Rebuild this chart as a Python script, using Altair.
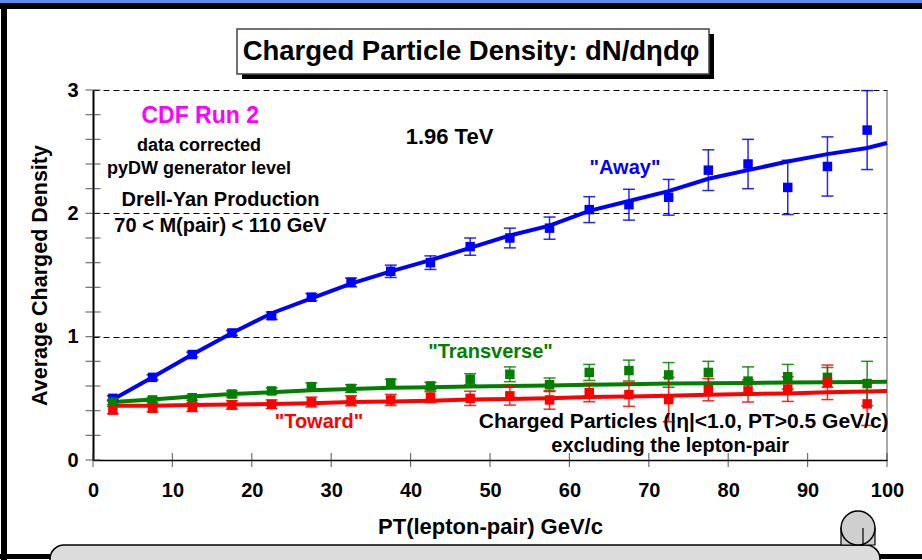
import altair as alt
import pandas as pd

# ---------------- data ----------------
pt = [2.5, 7.5, 12.5, 17.5, 22.5, 27.5, 32.5, 37.5, 42.5, 47.5,
      52.5, 57.5, 62.5, 67.5, 72.5, 77.5, 82.5, 87.5, 92.5, 97.5]

away = [0.50, 0.67, 0.855, 1.03, 1.17, 1.32, 1.44, 1.53, 1.60, 1.73,
        1.80, 1.88, 2.03, 2.07, 2.13, 2.35, 2.40, 2.21, 2.38, 2.675]
away_err = [0.02, 0.02, 0.02, 0.02, 0.03, 0.03, 0.035, 0.05, 0.055, 0.07,
            0.08, 0.09, 0.105, 0.125, 0.145, 0.165, 0.20, 0.22, 0.24, 0.32]

trans = [0.47, 0.487, 0.505, 0.535, 0.56, 0.595, 0.58, 0.625, 0.60, 0.655,
         0.695, 0.61, 0.71, 0.725, 0.69, 0.71, 0.64, 0.675, 0.67, 0.62]
trans_err = [0.02, 0.02, 0.02, 0.025, 0.025, 0.03, 0.03, 0.03, 0.03, 0.045,
             0.06, 0.055, 0.065, 0.085, 0.10, 0.09, 0.115, 0.10, 0.08, 0.18]

toward = [0.405, 0.42, 0.428, 0.447, 0.452, 0.47, 0.48, 0.487, 0.51, 0.50,
          0.52, 0.487, 0.547, 0.53, 0.49, 0.57, 0.56, 0.575, 0.63, 0.455]
toward_err = [0.03, 0.03, 0.035, 0.035, 0.035, 0.04, 0.04, 0.045, 0.045, 0.058,
              0.075, 0.075, 0.075, 0.095, 0.18, 0.09, 0.09, 0.10, 0.14, 0.175]

# pyDW generator-level curves
pt_curve = [2.5, 7.5, 12.5, 17.5, 22.5, 27.5, 32.5, 37.5, 42.5, 47.5,
            52.5, 57.5, 62.5, 67.5, 72.5, 77.5, 82.5, 87.5, 92.5, 97.5, 100]
away_curve = [0.49, 0.67, 0.855, 1.03, 1.19, 1.31, 1.43, 1.53, 1.62, 1.72,
              1.82, 1.90, 2.02, 2.10, 2.18, 2.28, 2.35, 2.42, 2.48, 2.53, 2.57]
trans_curve = [0.47, 0.49, 0.515, 0.535, 0.55, 0.565, 0.575, 0.585, 0.59, 0.595,
               0.60, 0.605, 0.61, 0.615, 0.62, 0.622, 0.625, 0.628, 0.63, 0.633, 0.635]
toward_curve = [0.44, 0.44, 0.445, 0.45, 0.455, 0.46, 0.47, 0.475, 0.48, 0.49,
                0.495, 0.50, 0.51, 0.515, 0.52, 0.53, 0.535, 0.54, 0.55, 0.555, 0.56]

series = ['"Away"', '"Transverse"', '"Toward"']
series_colors = ["#0000ff", "#008000", "#ff0000"]

x_tick_vals = [0, 10, 20, 30, 40, 50, 60, 70, 80, 90, 100]
y_tick_vals = [0, 0.2, 0.4, 0.6, 0.8, 1.0, 1.2, 1.4, 1.6, 1.8, 2.0,
               2.2, 2.4, 2.6, 2.8, 3.0]
y_label_vals = [0, 1, 2, 3]

# annotations (text, x, y in data units, color, font size)
ann_text = ["CDF Run 2", "data corrected", "pyDW generator level",
            "Drell-Yan Production", "70 < M(pair) < 110 GeV", "1.96 TeV",
            '"Away"', '"Transverse"', '"Toward"',
            "Charged Particles (|η|<1.0, PT>0.5 GeV/c)",
            "excluding the lepton-pair"]
ann_x = [13.5, 13.35, 13.35, 16.06, 16.06, 44.9, 67.0, 50.06, 28.46, 74.4, 72.7]
ann_y = [2.79, 2.55, 2.36, 2.11, 1.90, 2.62, 2.37, 0.876, 0.308, 0.308, 0.114]
ann_color = ["#ff00ff", "black", "black", "black", "black", "black",
             "#0000ff", "#008000", "#ff0000", "black", "black"]
ann_size = [23, 18, 18, 20, 20, 22, 20, 20, 20, 21, 20]

chart_title = "Charged Particle Density: dN/dηdφ"

# ---------------- tables ----------------
rows = []
for name, vals, errs in zip(series, [away, trans, toward], [away_err, trans_err, toward_err]):
    for x, v, e in zip(pt, vals, errs):
        rows.append({"series": name, "pt": x, "val": v, "lo": v - e, "hi": v + e})
pts_df = pd.DataFrame(rows)

crow = []
for name, vals in zip(series, [away_curve, trans_curve, toward_curve]):
    for x, v in zip(pt_curve, vals):
        crow.append({"series": name, "pt": x, "val": v})
curve_df = pd.DataFrame(crow)

ann_df = pd.DataFrame({"text": ann_text, "x": ann_x, "y": ann_y,
                       "color": ann_color, "size": ann_size})
xt_df = pd.DataFrame({"x": x_tick_vals, "y": [0] * len(x_tick_vals)})
yt_df = pd.DataFrame({"y": y_tick_vals, "x": [0] * len(y_tick_vals)})

FONT = "Liberation Sans"

x_scale = alt.Scale(domain=[0, 100], nice=False, zero=False)
y_scale = alt.Scale(domain=[0, 3], nice=False)
x_axis = alt.Axis(values=x_tick_vals, title="PT(lepton-pair) GeV/c", grid=False,
                  ticks=False, labelPadding=20, labelFontSize=20,
                  labelFontWeight="bold", labelFont=FONT, labelColor="black",
                  titleFontSize=22, titleFontWeight="bold", titleFont=FONT,
                  titleColor="black", titlePadding=16, domainColor="black",
                  domainWidth=1.5, labelFlush=False)
y_axis = alt.Axis(values=y_label_vals, title="Average Charged Density", grid=True,
                  gridColor="black", gridDash=[6, 4], gridWidth=1,
                  ticks=False, labelPadding=15, labelFontSize=20,
                  labelFontWeight="bold", labelFont=FONT, labelColor="black",
                  titleFontSize=21.5, titleFontWeight="bold", titleFont=FONT,
                  titleColor="black", titlePadding=15, domainColor="black",
                  domainWidth=2)


def X(field):
    return alt.X(f"{field}:Q", scale=x_scale, axis=x_axis)


def Y(field):
    return alt.Y(f"{field}:Q", scale=y_scale, axis=y_axis)


color = alt.Color("series:N", scale=alt.Scale(domain=series, range=series_colors),
                  legend=None)

one = alt.Data(values=[{"k": 1}])

# decorations of the slide frame (pixel positions relative to plot origin)
top_blue = alt.Chart(one).mark_rect(color="#5b8cf0").encode(
    x=alt.value(-93), x2=alt.value(829), y=alt.value(-90), y2=alt.value(-87))
top_black = alt.Chart(one).mark_rect(color="black").encode(
    x=alt.value(-93), x2=alt.value(829), y=alt.value(-87), y2=alt.value(-81))
left_black = alt.Chart(one).mark_rect(color="black").encode(
    x=alt.value(-92), x2=alt.value(-86), y=alt.value(-87), y2=alt.value(470))
bottom_black = alt.Chart(one).mark_rect(color="black").encode(
    x=alt.value(-93), x2=alt.value(829), y=alt.value(464), y2=alt.value(469))
scroll = alt.Chart(one).mark_rect(fill="#dcdcdc", stroke="black", strokeWidth=1.5,
                                  cornerRadius=14).encode(
    x=alt.value(-43), x2=alt.value(787), y=alt.value(455), y2=alt.value(495))
curl_stem = alt.Chart(one).mark_rect(fill="#cfcfcf", stroke="black", strokeWidth=1.2).encode(
    x=alt.value(748), x2=alt.value(782), y=alt.value(438), y2=alt.value(455))
curl = alt.Chart(one).mark_point(shape="circle", size=1150, filled=True, fill="#cfcfcf",
                                 stroke="black", strokeWidth=1.5, opacity=1).encode(
    x=alt.value(765), y=alt.value(438))
curl_in = alt.Chart(one).mark_rule(color="black", strokeWidth=1.2).encode(
    x=alt.value(770), y=alt.value(438), y2=alt.value(456))

right_border = alt.Chart(pd.DataFrame({"x": [100], "y": [0], "y2": [3]})).mark_rule(
    color="#707070", strokeWidth=1.2).encode(x=X("x"), y=Y("y"), y2="y2:Q")

x_ticks = alt.Chart(xt_df).mark_tick(orient="vertical", size=14, thickness=1.2,
                                     color="#333333").encode(x=X("x"), y=Y("y"))
y_ticks = alt.Chart(yt_df).mark_tick(orient="horizontal", size=15, thickness=1.2,
                                     color="#333333").encode(x=X("x"), y=Y("y"))

curves = alt.Chart(curve_df).mark_line(strokeWidth=4, clip=False).encode(
    x=X("pt"), y=Y("val"), color=color, detail="series:N")

err_rules = alt.Chart(pts_df).mark_rule(strokeWidth=1.5, opacity=0.85).encode(
    x=X("pt"), y=Y("lo"), y2="hi:Q", color=color)
err_top = alt.Chart(pts_df).mark_tick(orient="horizontal", size=12, thickness=1.5,
                                      opacity=0.85).encode(
    x=X("pt"), y=Y("hi"), color=color)
err_bot = alt.Chart(pts_df).mark_tick(orient="horizontal", size=12, thickness=1.5,
                                      opacity=0.85).encode(
    x=X("pt"), y=Y("lo"), color=color)

points = alt.Chart(pts_df).mark_square(size=90, opacity=1).encode(
    x=X("pt"), y=Y("val"), color=color)

texts = alt.Chart(ann_df).mark_text(font=FONT, fontWeight="bold", baseline="middle",
                                    align="center").encode(
    x=X("x"), y=Y("y"), text="text:N",
    color=alt.Color("color:N", scale=None),
    size=alt.Size("size:Q", scale=None))

title_shadow = alt.Chart(one).mark_rect(color="black").encode(
    x=alt.value(149), x2=alt.value(621), y=alt.value(-56), y2=alt.value(-11))
title_box = alt.Chart(one).mark_rect(fill="white", stroke="#444444", strokeWidth=1.5).encode(
    x=alt.value(144), x2=alt.value(616), y=alt.value(-61), y2=alt.value(-16))
title_text = alt.Chart(one).mark_text(text=chart_title, font=FONT, fontWeight="bold",
                                      fontSize=27.5, color="black", align="center",
                                      baseline="middle").encode(
    x=alt.value(378), y=alt.value(-38))

chart = alt.layer(
    top_blue, top_black, left_black, bottom_black, scroll, curl_stem, curl, curl_in,
    right_border, x_ticks, y_ticks, curves, err_rules, err_top, err_bot, points,
    texts, title_shadow, title_box, title_text
).properties(
    width=794, height=370,
    autosize=alt.AutoSizeParams(type="none"),
    padding={"left": 93, "top": 90, "right": 35, "bottom": 100},
    background="white"
).configure_view(stroke=None)

chart.save("out.html", embed_options={"renderer": "svg", "actions": False})
